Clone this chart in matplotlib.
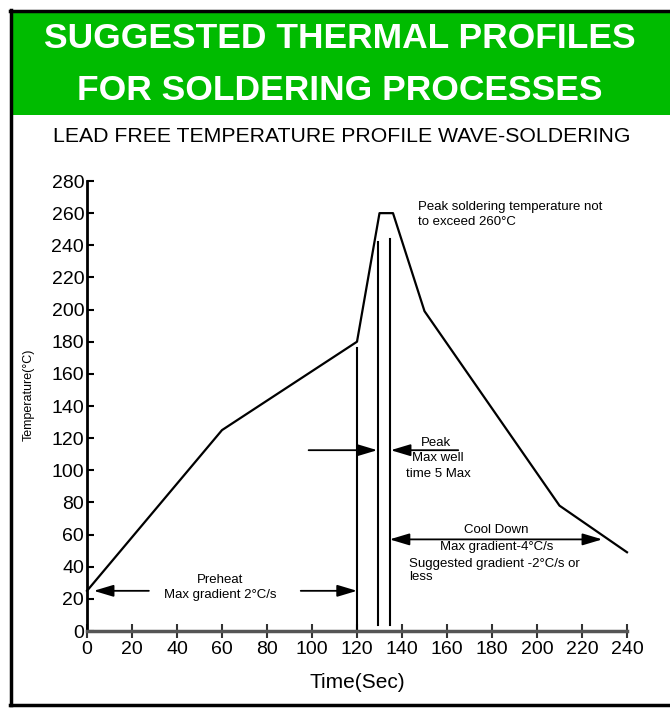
import matplotlib
matplotlib.use("Agg")
import matplotlib.pyplot as plt
from matplotlib.patches import Rectangle
from matplotlib.lines import Line2D

plt.rcParams["font.family"] = ["Liberation Sans", "DejaVu Sans"]

# profile curve
time_s = [0, 60, 120, 130, 136, 150, 210, 240]
temp_c = [25, 125, 180, 260, 260, 199, 78, 49]

# vertical marker lines: (x, y_bottom, y_top)
marker_x = [120, 129.5, 134.5]
marker_lo = [0, 4, 4]
marker_hi = [176, 242, 244]

x_ticks = list(range(0, 241, 20))
y_ticks = list(range(0, 281, 20))

title_lines = ["SUGGESTED THERMAL PROFILES", "FOR SOLDERING PROCESSES"]
subtitle = "LEAD FREE TEMPERATURE PROFILE WAVE-SOLDERING"

W, H = 670, 712
fig = plt.figure(figsize=(W / 100, H / 100), dpi=100)


def fx(px):
    return px / W


def fy(py):
    return 1 - py / H


# green header and frame
fig.add_artist(Rectangle((fx(12), fy(115)), fx(670 - 12), (103) / H,
                         transform=fig.transFigure, facecolor="#00bb00",
                         edgecolor="none"))
for xs, ys in [([11, 11], [10, 705]), ([10, 670], [11, 11]), ([10, 670], [705, 705])]:
    fig.add_artist(Line2D([fx(v) for v in xs], [fy(v) for v in ys],
                          transform=fig.transFigure, color="black", lw=2.5))

fig.text(fx(340), fy(38), title_lines[0], ha="center", va="center",
         color="white", fontsize=25.5, fontweight="bold")
fig.text(fx(340), fy(91), title_lines[1], ha="center", va="center",
         color="white", fontsize=25.5, fontweight="bold")
fig.text(fx(342), fy(137), subtitle, ha="center", va="center",
         color="black", fontsize=15.3)

ax = fig.add_axes([fx(87), fy(631), fx(627 - 87), (631 - 181) / H])
ax.set_xlim(0, 240)
ax.set_ylim(0, 280)
ax.set_xticks(x_ticks)
ax.set_yticks(y_ticks)
ax.spines["top"].set_visible(False)
ax.spines["right"].set_visible(False)
ax.spines["left"].set_linewidth(2)
ax.spines["left"].set_color("black")
ax.spines["bottom"].set_linewidth(2.5)
ax.spines["bottom"].set_color("#555555")
ax.tick_params(axis="x", direction="inout", length=10, width=1.5,
               color="#333333", labelsize=14, pad=2)
ax.tick_params(axis="y", direction="in", length=5, width=1.5,
               color="black", labelsize=14, pad=2)
ax.patch.set_alpha(0)

ax.plot(time_s, temp_c, color="black", lw=1.6, clip_on=False)
for xv, lo, hi in zip(marker_x, marker_lo, marker_hi):
    ax.plot([xv, xv], [lo, hi], color="black", lw=1.5)

ax.set_xlabel("Time(Sec)", fontsize=15, labelpad=11)
fig.text(fx(29), fy(395), "Temperature(°C)", rotation=90, ha="center",
         va="center", fontsize=9)

arrow = dict(arrowstyle="-|>,head_length=1.0,head_width=0.3", color="black",
             lw=1.3, mutation_scale=12, shrinkA=0, shrinkB=0)
dbl = dict(arrowstyle="<|-|>,head_length=1.0,head_width=0.3", color="black",
           lw=1.3, mutation_scale=12, shrinkA=0, shrinkB=0)

fs = 9.5

# preheat
ax.annotate("", xy=(3, 25), xytext=(27.5, 25), arrowprops=arrow)
ax.annotate("", xy=(120, 25), xytext=(95, 25), arrowprops=arrow)
ax.text(59, 32, "Preheat", ha="center", va="center", fontsize=fs)
ax.text(59, 22.5, "Max gradient 2°C/s", ha="center", va="center", fontsize=fs)

# peak dwell
ax.annotate("", xy=(129, 112.5), xytext=(98.5, 112.5), arrowprops=arrow)
ax.annotate("", xy=(135, 112.5), xytext=(165, 112.5), arrowprops=arrow)
ax.text(155, 117, "Peak", ha="center", va="center", fontsize=fs)
ax.text(156, 107.5, "Max well", ha="center", va="center", fontsize=fs)
ax.text(156, 98, "time 5 Max", ha="center", va="center", fontsize=fs)

# peak temperature note
ax.text(147, 264, "Peak soldering temperature not", ha="left", va="center",
        fontsize=fs)
ax.text(147, 254.5, "to exceed 260°C", ha="left", va="center", fontsize=fs)

# cool down
ax.annotate("", xy=(134.5, 57), xytext=(229, 57), arrowprops=dbl)
ax.text(182, 63, "Cool Down", ha="center", va="center", fontsize=fs)
ax.text(182, 52, "Max gradient-4°C/s", ha="center", va="center", fontsize=fs)
ax.text(143, 42, "Suggested gradient -2°C/s or", ha="left", va="center",
        fontsize=fs)
ax.text(143, 33.5, "less", ha="left", va="center", fontsize=fs)

fig.savefig("out.png", dpi=100)
